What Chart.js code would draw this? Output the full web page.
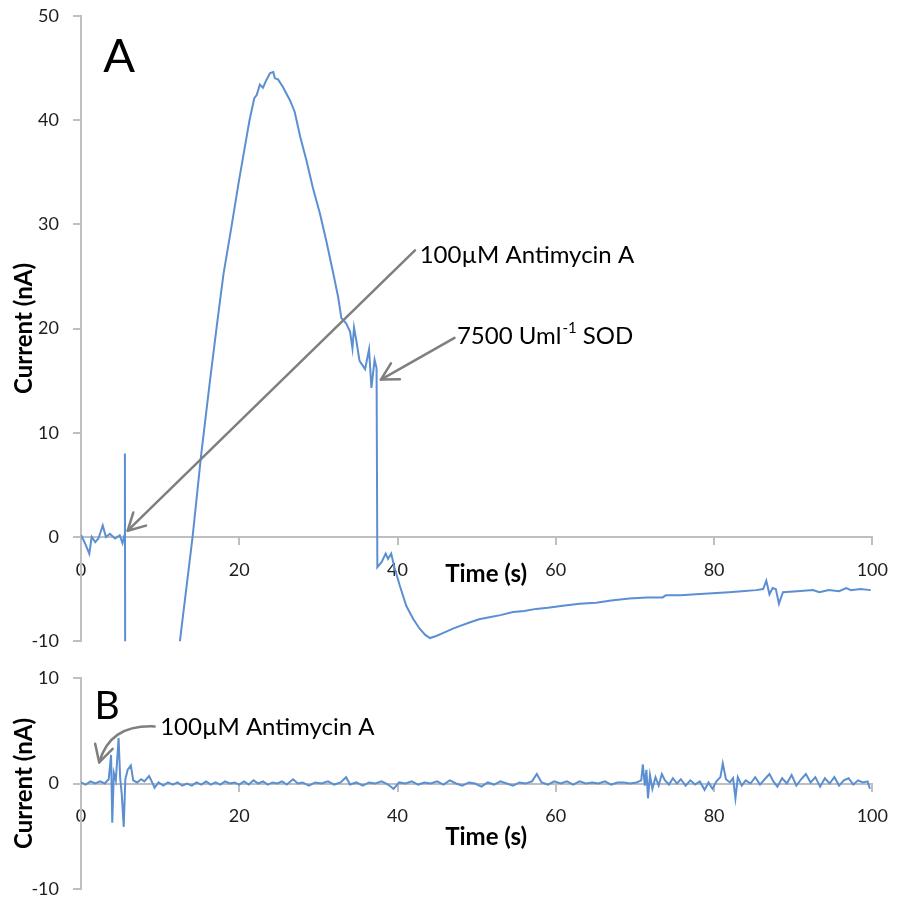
<!DOCTYPE html>
<html>
<head>
<meta charset="utf-8">
<script src="https://cdn.jsdelivr.net/npm/chart.js@4.4.1/dist/chart.umd.min.js"></script>
<style>
  html, body { margin: 0; background: #fff; overflow: hidden; width: 899px; height: 903px; }
  #wrapA { position: absolute; left: 0; top: -9px; width: 903px; height: 675px; }
  #wrapB { position: absolute; left: 0; top: 653px; width: 903px; height: 261px; }
</style>
</head>
<body>
<div id="wrapA"><canvas id="chartA"></canvas></div>
<div id="wrapB"><canvas id="chartB"></canvas></div>
<script>
// Panel A: current (nA) vs time (s)
const timeA = [
  0, 0.5, 1.05, 1.35, 1.8, 2.2, 2.75, 3.15, 3.65, 4.3,
  4.9, 5.25, 5.5, 5.55, 5.62, 8, 11, 12.5, 14.1, 15.2,
  16.3, 17.2, 18.0, 19.0, 19.9, 20.7, 21.3, 21.9, 22.2, 22.6,
  23.0, 23.4, 23.9, 24.3, 24.5, 24.9, 25.5, 26.4, 27.0, 27.7,
  28.5, 29.3, 30.2, 31.0, 31.9, 32.5, 32.9, 33.5, 34.0, 34.3,
  34.5, 34.8, 35.2, 35.9, 36.4, 36.7, 37.1, 37.35, 37.45, 38.0,
  38.5, 38.8, 39.2, 39.6, 40.3, 41.1, 42.0, 42.8, 43.5, 44.1,
  44.9, 45.8, 47.0, 48.0, 49.1, 50.3, 51.6, 53.0, 54.6, 56.0,
  57.5, 59.0, 60.9, 63.0, 65.1, 67.0, 69.3, 71.5, 73.5, 73.9,
  75.8, 77.7, 79.8, 81.9, 83.5, 85.3, 86.2, 86.6, 87.0, 87.4,
  87.8, 88.2, 88.7, 90.5, 92.5, 93.3, 94.5, 95.8, 96.7, 97.3,
  98.5, 99.8
];
const currentA = [
  0.2, -0.6, -1.6, 0, -0.5, -0.15, 1.1, 0, 0.3, -0.15,
  0.15, -0.6, 0.2, 8, -35, -45, -22, -10, 0, 8,
  15, 20.5, 25.2, 29.7, 33.9, 37.4, 40.0, 42.1, 42.4, 43.4,
  43.1, 43.8, 44.5, 44.6, 44.0, 43.9, 43.2, 41.9, 40.8, 38.4,
  36.1, 33.5, 31.0, 28.4, 25.2, 23.0, 21.0, 20.5, 19.7, 18.1,
  20.1, 18.8, 16.9, 16.1, 18.0, 14.3, 17.0, 16.2, -2.9, -2.4,
  -1.6, -2.1, -1.6, -2.9, -4.7, -6.6, -7.9, -8.8, -9.4, -9.7,
  -9.5, -9.2, -8.8, -8.5, -8.2, -7.9, -7.7, -7.5, -7.2, -7.1,
  -6.9, -6.8, -6.6, -6.4, -6.3, -6.1, -5.9, -5.8, -5.8, -5.6,
  -5.6, -5.5, -5.4, -5.3, -5.2, -5.1, -5.0, -4.2, -5.5, -4.9,
  -5.0, -6.4, -5.3, -5.2, -5.1, -5.3, -5.1, -5.2, -4.9, -5.1,
  -5.0, -5.1
];

// Panel B: control trace
const timeB = [
  0, 0.6, 1.2, 1.8, 2.4, 3.0, 3.5, 3.8, 3.95, 4.15,
  4.4, 4.75, 4.95, 5.15, 5.4, 5.6, 5.9, 6.3, 6.6, 7.1,
  7.6, 8.0, 8.6, 9.0, 9.3, 9.8, 10.4, 11.0, 11.6, 12.2,
  12.8, 13.4, 14.0, 14.6, 15.2, 15.8, 16.4, 17.0, 17.6, 18.2,
  18.8, 19.4, 20.0, 20.6, 21.2, 21.8, 22.4, 23.0, 23.6, 24.2,
  24.8, 25.4, 26.0, 26.8, 27.4, 28.0, 28.8, 29.6, 30.4, 31.2,
  32.0, 32.8, 33.5, 34.0, 34.8, 35.6, 36.4, 37.2, 38.0, 38.8,
  39.5, 40.2, 41.0, 41.8, 42.6, 43.4, 44.2, 45.0, 45.8, 46.6,
  47.4, 48.2, 49.0, 49.8, 50.6, 51.4, 52.2, 53.0, 53.8, 54.6,
  55.4, 56.2, 57.0, 57.6, 58.2, 59.0, 59.8, 60.6, 61.4, 62.2,
  63.0, 63.8, 64.6, 65.4, 66.2, 67.0, 67.8, 68.6, 69.4, 70.2,
  70.8, 71.0, 71.25, 71.45, 71.65, 71.9, 72.2, 72.6, 73.0, 73.4,
  73.8, 74.3, 74.8, 75.3, 75.8, 76.4, 77.0, 77.6, 78.2, 78.8,
  79.3, 79.8, 80.3, 80.8, 81.1, 81.5, 82.0, 82.4, 82.7, 83.0,
  83.5, 84.0, 84.6, 85.2, 85.8, 86.4, 87.0, 87.5, 88.0, 88.6,
  89.2, 89.8, 90.4, 91.0, 91.6, 92.2, 92.8, 93.4, 94.0, 94.6,
  95.2, 95.8, 96.4, 97.0, 97.6, 98.2, 98.8, 99.4, 99.7
];
const currentB = [
  0.1, -0.1, 0.2, 0.0, 0.2, 0.0, 0.4, 2.7, -3.7, 1.0,
  0.3, 4.3, 0.5, -1.0, -4.1, 0.4, 1.3, 1.7, 0.3, 0.1,
  0.4, 0.2, 0.7, 0.1, -0.4, 0.1, -0.2, 0.1, -0.1, 0.1,
  -0.2, 0.0, -0.2, 0.1, -0.1, 0.2, -0.1, 0.1, -0.1, 0.2,
  0.0, 0.1, -0.1, 0.2, -0.1, 0.3, 0.0, 0.2, -0.1, 0.1,
  0.0, 0.2, -0.1, 0.4, 0.0, 0.1, -0.2, 0.1, 0.0, 0.2,
  -0.1, 0.1, 0.6, -0.1, 0.1, -0.2, 0.1, 0.0, 0.2, -0.1,
  -0.5, 0.1, 0.0, 0.2, -0.1, 0.1, 0.0, 0.2, -0.1, 0.3,
  0.0, -0.2, 0.1, 0.0, -0.3, 0.1, -0.1, 0.2, 0.0, -0.2,
  0.1, 0.0, 0.2, 0.9, 0.1, -0.1, 0.2, 0.0, 0.2, -0.1,
  0.2, 0.0, 0.1, 0.0, 0.2, -0.1, 0.1, 0.1, 0.0, 0.1,
  0.3, 1.8, -0.2, 1.3, -1.4, 0.8, -0.5, 0.6, -0.2, 0.9,
  0.3, -0.1, 0.5, 0.0, 0.4, -0.2, 0.3, -0.1, 0.2, -0.6,
  0.1, -0.5, 0.2, 0.6, 1.9, 0.4, 0.1, 0.5, -1.4, 0.6,
  -0.2, 0.3, 0.0, 0.6, -0.1, 0.4, 0.9, 0.2, -0.3, 0.5,
  0.0, 0.8, -0.2, 0.4, 0.9, 0.1, 0.6, -0.3, 0.5, 0.0,
  0.6, -0.2, 0.3, 0.5, -0.1, 0.3, 0.1, 0.2, -0.5
];

const axisColor = '#bfbfbf';
const textColor = '#1e1e1e';
const lineColor = '#5b8fd2';
const arrowColor = '#7f7f7f';
const family = 'Lato, "Open Sans", sans-serif';

function toPoints(xs, ys) {
  return xs.map((t, i) => ({ x: t, y: ys[i] }));
}

function arrowHead(ctx, tip, from) {
  const ang = Math.atan2(tip[1] - from[1], tip[0] - from[0]);
  const len = 19, spread = 0.5;
  ctx.beginPath();
  ctx.moveTo(tip[0] - len * Math.cos(ang - spread), tip[1] - len * Math.sin(ang - spread));
  ctx.lineTo(tip[0], tip[1]);
  ctx.lineTo(tip[0] - len * Math.cos(ang + spread), tip[1] - len * Math.sin(ang + spread));
  ctx.stroke();
}

// "Time (s)" caption, placed relative to the zero line like in the original
function timeCaption(offset) {
  return {
    id: 'timeCaption',
    afterDraw(chart) {
      const { ctx, scales: { x, y } } = chart;
      ctx.save();
      ctx.font = 'bold 24px ' + family;
      ctx.fillStyle = '#000';
      ctx.textAlign = 'center';
      ctx.textBaseline = 'middle';
      ctx.fillText('Time (s)', x.getPixelForValue(51.2), y.getPixelForValue(0) + offset);
      ctx.restore();
    }
  };
}

const notesA = {
  id: 'notesA',
  afterDraw(chart) {
    const { ctx, scales: { x, y } } = chart;
    const p = (a, b) => [x.getPixelForValue(a), y.getPixelForValue(b)];
    ctx.save();
    ctx.strokeStyle = arrowColor;
    ctx.lineWidth = 2.5;
    ctx.lineCap = 'round';
    ctx.lineJoin = 'round';

    // antimycin arrow
    let tail = p(42.2, 27.5), tip = p(5.9, 0.6);
    ctx.beginPath(); ctx.moveTo(tail[0], tail[1]); ctx.lineTo(tip[0], tip[1]); ctx.stroke();
    arrowHead(ctx, tip, tail);

    // SOD arrow
    tail = p(47.2, 19.1); tip = p(37.9, 15.1);
    ctx.beginPath(); ctx.moveTo(tail[0], tail[1]); ctx.lineTo(tip[0], tip[1]); ctx.stroke();
    arrowHead(ctx, tip, tail);

    ctx.fillStyle = '#000';
    ctx.textBaseline = 'middle';
    ctx.font = '24px ' + family;
    let at = p(42.8, 27.0);
    ctx.fillText('100\u00b5M Antimycin A', at[0], at[1]);

    at = p(47.5, 19.3);
    ctx.fillText('7500 Uml', at[0], at[1]);
    const w = ctx.measureText('7500 Uml').width;
    ctx.font = '15px ' + family;
    ctx.fillText('-1', at[0] + w + 1, at[1] - 8);
    const w2 = ctx.measureText('-1').width;
    ctx.font = '24px ' + family;
    ctx.fillText(' SOD', at[0] + w + w2 + 1, at[1]);

    // panel letter
    ctx.font = '47px ' + family;
    ctx.textBaseline = 'alphabetic';
    at = p(2.8, 44.6);
    ctx.fillText('A', at[0], at[1]);
    ctx.restore();
  }
};

const notesB = {
  id: 'notesB',
  afterDraw(chart) {
    const { ctx, scales: { x, y } } = chart;
    const p = (a, b) => [x.getPixelForValue(a), y.getPixelForValue(b)];
    ctx.save();
    ctx.strokeStyle = arrowColor;
    ctx.lineWidth = 2.5;
    ctx.lineCap = 'round';
    ctx.lineJoin = 'round';
    const tail = p(9.3, 5.4), c1 = p(5.2, 5.5), c2 = p(3.2, 4.3), tip = p(2.3, 2.0);
    ctx.beginPath();
    ctx.moveTo(tail[0], tail[1]);
    ctx.bezierCurveTo(c1[0], c1[1], c2[0], c2[1], tip[0], tip[1]);
    ctx.stroke();
    arrowHead(ctx, tip, c2);

    ctx.fillStyle = '#000';
    ctx.textBaseline = 'middle';
    ctx.font = '24px ' + family;
    let at = p(10.0, 5.3);
    ctx.fillText('100\u00b5M Antimycin A', at[0], at[1]);

    ctx.font = '39px ' + family;
    ctx.textBaseline = 'alphabetic';
    at = p(1.7, 6.1);
    ctx.fillText('B', at[0], at[1]);
    ctx.restore();
  }
};

function buildOptions(yMin, yMax) {
  const tickFont = { family: family, size: 18 };
  return {
    responsive: true,
    maintainAspectRatio: false,
    animation: false,
    layout: { padding: { top: 10, left: 0, right: 20, bottom: 10 } },
    plugins: { legend: { display: false }, tooltip: { enabled: false } },
    scales: {
      x: {
        type: 'linear',
        min: 0,
        max: 100,
        position: { y: 0 },
        ticks: { stepSize: 20, color: textColor, font: tickFont, padding: 15, maxRotation: 0 },
        grid: { drawOnChartArea: false, drawTicks: true, tickLength: 7, color: axisColor, lineWidth: 2 },
        border: { color: axisColor, width: 2 }
      },
      y: {
        type: 'linear',
        min: yMin,
        max: yMax,
        position: 'left',
        ticks: { stepSize: 10, color: textColor, font: tickFont, padding: 14 },
        grid: { drawOnChartArea: false, drawTicks: true, tickLength: 8, color: axisColor, lineWidth: 2 },
        border: { color: axisColor, width: 2 },
        title: {
          display: true,
          text: 'Current (nA)',
          color: '#000',
          font: { family: family, size: 24, weight: 'bold' },
          padding: { top: 10, bottom: 0 }
        },
        afterFit: (scale) => { scale.width = 81; }
      }
    }
  };
}

function lineDataset(points) {
  return {
    data: points,
    borderColor: lineColor,
    borderWidth: 2,
    pointRadius: 0,
    tension: 0,
    fill: false
  };
}

new Chart(document.getElementById('chartA'), {
  type: 'line',
  data: { datasets: [lineDataset(toPoints(timeA, currentA))] },
  options: buildOptions(-10, 50),
  plugins: [timeCaption(37), notesA]
});

new Chart(document.getElementById('chartB'), {
  type: 'line',
  data: { datasets: [lineDataset(toPoints(timeB, currentB))] },
  options: buildOptions(-10, 10),
  plugins: [timeCaption(54), notesB]
});
</script>
</body>
</html>
